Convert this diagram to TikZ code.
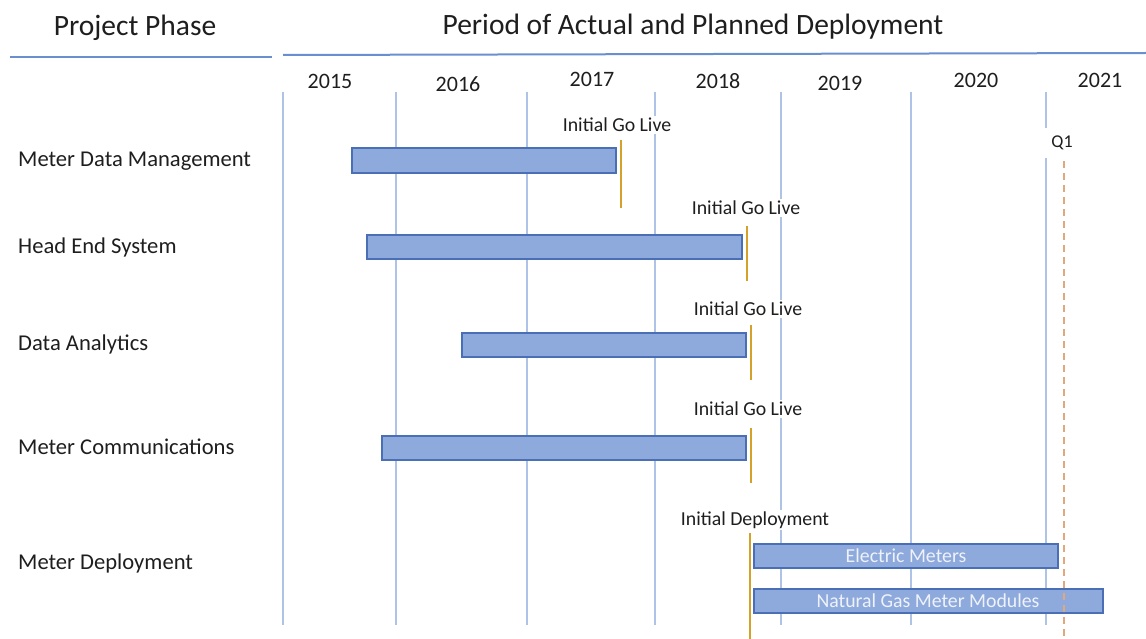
\documentclass[tikz,border=0pt]{standalone}
\usepackage{fontspec}
\setmainfont{Carlito}
\definecolor{hdrline}{HTML}{6A8FCF}
\definecolor{grid}{HTML}{AFC3E6}
\definecolor{barfill}{HTML}{8EA9DB}
\definecolor{bardraw}{HTML}{4A6FB5}
\definecolor{gold}{HTML}{D4A22A}
\definecolor{q1}{HTML}{E3A77C}
\definecolor{txt}{HTML}{1E1E1E}
\definecolor{bartxt}{HTML}{EEF2FA}
\tikzset{
  hdr/.style={font=\fontsize{29.5}{32}\selectfont, text=txt, inner sep=0pt},
  yr/.style={font=\fontsize{22}{24}\selectfont, text=txt, inner sep=0pt},
  row/.style={font=\fontsize{22.6}{25}\selectfont, text=txt, anchor=west, inner sep=0pt},
  golabel/.style={font=\fontsize{19.8}{22}\selectfont, text=txt, fill=white, inner sep=2pt},
  q1label/.style={font=\fontsize{18}{20}\selectfont, text=txt, fill=white, inner xsep=18pt, inner ysep=8pt},
  gridline/.style={draw=grid, line width=1.2pt},
  bar/.style={draw=bardraw, fill=barfill, line width=1.3pt},
  goline/.style={draw=gold, line width=2.2pt},
  bartext/.style={font=\fontsize{19.8}{22}\selectfont, text=bartxt, inner sep=0pt}
}
\begin{document}
\begin{tikzpicture}[x=1pt,y=-1pt]
\useasboundingbox (0,0) rectangle (1146,639);
% grid lines
\foreach \gx in {283,396,527,655,781,911,1046}{
  \draw[gridline] (\gx,92) -- (\gx,625);
}
% header lines
\draw[hdrline, line width=2pt] (10,57) -- (272,57);
\draw[hdrline, line width=2pt] (283,55) -- (1146,53);
% headers
\node[hdr] (hphase) at (135,28) {Project Phase};
\node[hdr] (hperiod) at (693,27) {Period of Actual and Planned Deployment};
% years
\node[yr] (y2015) at (330,81) {2015};
\node[yr] (y2016) at (458,84) {2016};
\node[yr] (y2017) at (592,79) {2017};
\node[yr] (y2018) at (718,81) {2018};
\node[yr] (y2019) at (840,83) {2019};
\node[yr] (y2020) at (976,80) {2020};
\node[yr] (y2021) at (1100,80) {2021};
% row labels
\node[row] (rmdm) at (18,161) {Meter Data Management};
\node[row] (rhes) at (18,247) {Head End System};
\node[row] (rda) at (18,344) {Data Analytics};
\node[row] (rmc) at (18,447) {Meter Communications};
\node[row] (rmd) at (18,563) {Meter Deployment};
% bars
\draw[bar] (352,148) rectangle (616,173);
\draw[bar] (367,235) rectangle (742,259);
\draw[bar] (462,333) rectangle (746,357);
\draw[bar] (382,436) rectangle (746,460);
\draw[bar] (754,544) rectangle (1058,568);
\draw[bar] (754,589) rectangle (1103,613);
\node[bartext] (belec) at (906,556) {Electric Meters};
\node[bartext] (bgas) at (928,601) {Natural Gas Meter Modules};
% Q1 label and dashed line
\node[q1label] (q1lab) at (1062,143) {Q1};
\draw[q1, line width=2pt, dash pattern=on 7pt off 5pt] (1064,161) -- (1064,639);
% go-live labels and lines
\node[golabel] (g1) at (617,125) {Initial Go Live};
\node[golabel] (g2) at (746,208) {Initial Go Live};
\node[golabel] (g3) at (748,309) {Initial Go Live};
\node[golabel] (g4) at (748,409) {Initial Go Live};
\node[golabel] (g5) at (755,520) {Initial Deployment};
\draw[goline] (621,140) -- (621,208);
\draw[goline] (747,226) -- (747,281);
\draw[goline] (751,325) -- (751,380);
\draw[goline] (751,428) -- (751,483);
\draw[goline] (750,533) -- (750,639);
\end{tikzpicture}
\end{document}
